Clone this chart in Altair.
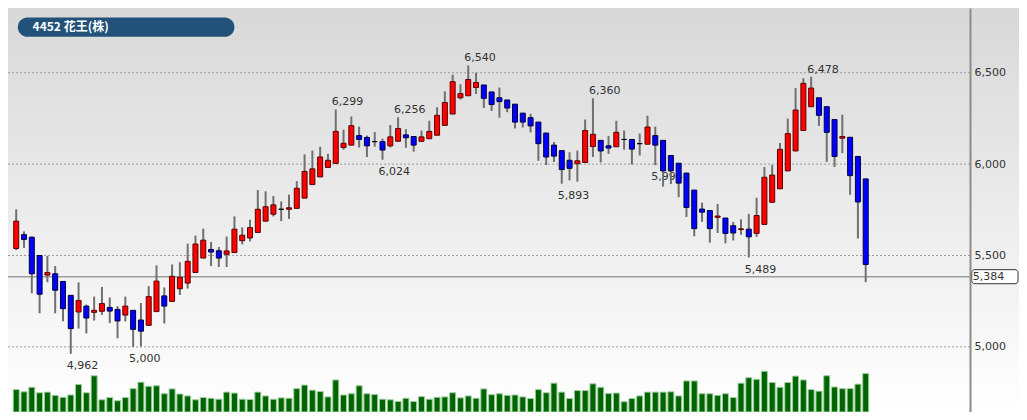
import altair as alt
import pandas as pd

# ---------------- data ----------------
opens = [5538, 5614, 5600, 5500, 5393, 5400, 5358, 5282, 5191, 5223,
         5189, 5195, 5216, 5205, 5174, 5200, 5147, 5118, 5193, 5279,
         5249, 5318, 5349, 5407, 5486, 5533, 5526, 5507, 5516, 5581,
         5596, 5626, 5688, 5726, 5753, 5753, 5758, 5814, 5888, 5930,
         5982, 6004, 6091, 6104, 6156, 6146, 6123, 6123, 6100, 6125,
         6160, 6151, 6125, 6139, 6158, 6212, 6274, 6363, 6374, 6419,
         6433, 6395, 6363, 6351, 6328, 6279, 6254, 6230, 6170, 6104,
         6074, 6021, 6002, 6009, 6096, 6130, 6100, 6095, 6135, 6135,
         6112, 6109, 6156, 6130, 6047, 6005, 5951, 5858, 5754, 5746,
         5709, 5705, 5663, 5642, 5644, 5621, 5670, 5791, 5865, 5963,
         6072, 6184, 6314, 6363, 6314, 6244, 6142, 6147, 6042, 5919]
highs = [5753, 5632, 5605, 5500, 5498, 5442, 5358, 5282, 5353, 5232,
         5275, 5328, 5270, 5223, 5275, 5200, 5240, 5332, 5446, 5325,
         5451, 5463, 5565, 5609, 5647, 5574, 5547, 5604, 5714, 5654,
         5696, 5858, 5851, 5826, 5796, 5833, 5907, 6053, 6074, 6095,
         6056, 6299, 6188, 6261, 6205, 6156, 6175, 6139, 6214, 6256,
         6191, 6151, 6184, 6237, 6311, 6398, 6489, 6437, 6540, 6500,
         6433, 6395, 6419, 6351, 6328, 6279, 6275, 6230, 6170, 6121,
         6074, 6065, 6074, 6244, 6360, 6130, 6153, 6237, 6184, 6135,
         6167, 6265, 6205, 6130, 6047, 6005, 5951, 5858, 5789, 5746,
         5782, 5705, 5684, 5698, 5728, 5816, 5984, 5995, 6116, 6249,
         6416, 6470, 6478, 6363, 6314, 6244, 6270, 6147, 6042, 5919]
lows = [5530, 5542, 5293, 5184, 5354, 5184, 5140, 4962, 5100, 5074,
        5144, 5175, 5130, 5047, 5139, 5000, 5002, 5118, 5193, 5128,
        5249, 5284, 5319, 5407, 5486, 5442, 5437, 5437, 5516, 5561,
        5577, 5626, 5688, 5714, 5688, 5700, 5758, 5814, 5888, 5930,
        5982, 6004, 6079, 6104, 6091, 6039, 6095, 6024, 6091, 6125,
        6089, 6068, 6121, 6139, 6158, 6212, 6274, 6354, 6374, 6384,
        6307, 6291, 6254, 6284, 6195, 6200, 6174, 6018, 5995, 6012,
        5893, 5911, 5904, 6009, 6039, 6009, 6056, 6095, 6079, 5998,
        6047, 6109, 5994, 5877, 5891, 5819, 5711, 5605, 5684, 5570,
        5623, 5567, 5582, 5614, 5489, 5602, 5670, 5791, 5865, 5963,
        6072, 6184, 6314, 6209, 6012, 5984, 6060, 5832, 5593, 5354]
closes = [5688, 5588, 5400, 5288, 5407, 5310, 5209, 5100, 5254, 5158,
          5200, 5237, 5196, 5142, 5223, 5096, 5086, 5275, 5360, 5223,
          5386, 5381, 5468, 5563, 5584, 5519, 5486, 5525, 5644, 5611,
          5653, 5753, 5767, 5777, 5753, 5761, 5868, 5960, 5974, 6039,
          6021, 6179, 6114, 6210, 6135, 6100, 6123, 6077, 6149, 6195,
          6144, 6104, 6149, 6179, 6267, 6337, 6451, 6386, 6463, 6447,
          6360, 6326, 6342, 6307, 6230, 6230, 6209, 6112, 6039, 6044,
          5970, 5977, 6018, 6184, 6163, 6072, 6088, 6174, 6135, 6082,
          6112, 6203, 6104, 5963, 5963, 5896, 5763, 5647, 5737, 5647,
          5716, 5621, 5623, 5646, 5602, 5719, 5928, 5940, 6081, 6167,
          6296, 6442, 6416, 6267, 6174, 6042, 6151, 5937, 5793, 5451]
volumes = [1165, 1050, 1285, 1000, 1035, 865, 765, 885, 1435, 1000,
           1885, 635, 750, 585, 750, 1215, 1550, 1335, 1365, 950,
           1200, 935, 835, 635, 750, 715, 665, 1035, 985, 665,
           650, 1035, 835, 665, 735, 715, 1215, 1400, 1135, 1065,
           785, 1665, 885, 950, 1365, 950, 915, 665, 635, 550,
           715, 550, 800, 665, 765, 785, 1000, 735, 835, 715,
           1200, 900, 950, 865, 885, 785, 700, 1165, 1000, 1500,
           1035, 700, 1115, 1115, 1465, 1285, 965, 985, 535, 700,
           835, 1035, 1035, 1035, 1050, 835, 1615, 1615, 950, 950,
           865, 950, 750, 1500, 1785, 1700, 2115, 1535, 1285, 1535,
           1865, 1665, 1165, 1085, 1885, 1300, 1215, 1215, 1450, 2000]

tick_values = [5000, 5500, 6000, 6500]
ref_price = 5384
note_idx = [7, 15, 47, 41, 49, 58, 70, 74, 82, 94, 102]
note_val = [4962, 5000, 6024, 6299, 6256, 6540, 5893, 6360, 5994, 5489, 6478]
note_kind = ["low", "low", "low", "high", "high", "high", "low", "high", "low", "low", "high"]
title_text = "4452 花王(株)"

# ---------------- layout ----------------
SX = 1011 / 1027
SY = 404 / 420
W = 962
H = 404
FONT = "DejaVu Sans"

xscale = alt.Scale(domain=[-0.4125, 121.74], nice=False, zero=False)
yscale = alt.Scale(domain=[4643.7, 6854.2], nice=False, zero=False)

n = len(opens)
df = pd.DataFrame({"i": list(range(n)), "open": opens, "high": highs,
                   "low": lows, "close": closes, "vol": volumes})
df["dir"] = ["up" if c > o else ("down" if c < o else "flat") for o, c in zip(opens, closes)]

X = alt.X("i:Q", scale=xscale, axis=None)

grad = alt.LinearGradient(
    gradient="linear",
    stops=[alt.GradientStop(color="#d8d8d8", offset=0),
           alt.GradientStop(color="#ffffff", offset=1)],
    x1=0, x2=0, y1=0, y2=1)

one = pd.DataFrame({"k": [0]})
bg = alt.Chart(one).mark_rect(fill=grad).encode(
    x=alt.value(0), x2=alt.value(1011), y=alt.value(0), y2=alt.value(H))

grid_df = pd.DataFrame({"v": tick_values})
grid = alt.Chart(grid_df).mark_rule(strokeDash=[2, 2], color="#9a9a9a", strokeWidth=1).encode(
    y=alt.Y("v:Q", scale=yscale,
            axis=alt.Axis(orient="right", values=tick_values, format=",.0f", grid=False,
                          ticks=False, domainColor="#8c8c8c", domainWidth=2,
                          labelColor="#333333", labelFont=FONT, labelFontSize=11,
                          labelPadding=4, title=None, zindex=1)),
    x=alt.value(0), x2=alt.value(W))

ref_df = pd.DataFrame({"p": [ref_price], "lo": [ref_price - 38.4], "hi": [ref_price + 38.4],
                       "label": [f"{ref_price:,}"]})
ref_line = alt.Chart(ref_df).mark_rule(color="#9c9c9c", strokeWidth=1.5).encode(
    y=alt.Y("p:Q", scale=yscale, axis=None), x=alt.value(0), x2=alt.value(W))

vol = alt.Chart(df).mark_bar(size=6, fill="#006400", stroke="#9fcf9f", strokeWidth=1).encode(
    x=X,
    y=alt.Y("vol:Q", scale=alt.Scale(domain=[0, 2500], range=[H, H - 50 * SY]), axis=None))

notes_df = pd.DataFrame({"i": note_idx, "v": note_val, "kind": note_kind,
                         "label": [f"{v:,}" for v in note_val]})
notes_hi = alt.Chart(notes_df).transform_filter(alt.datum.kind == "high").mark_text(
    align="left", baseline="alphabetic", dx=-4, dy=-4, font=FONT, fontSize=11, color="#333333"
).encode(x=X, y=alt.Y("v:Q", scale=yscale, axis=None), text="label:N")
notes_lo = alt.Chart(notes_df).transform_filter(alt.datum.kind == "low").mark_text(
    align="left", baseline="top", dx=-4, dy=6, font=FONT, fontSize=11, color="#333333"
).encode(x=X, y=alt.Y("v:Q", scale=yscale, axis=None), text="label:N")

wick = alt.Chart(df).mark_rule(color="#707070", strokeWidth=2).encode(
    x=X, y=alt.Y("low:Q", scale=yscale, axis=None), y2="high:Q")

body = alt.Chart(df).mark_bar(size=5, strokeWidth=1).encode(
    x=X,
    y=alt.Y("open:Q", scale=yscale, axis=None), y2="close:Q",
    fill=alt.Fill("dir:N", scale=alt.Scale(domain=["up", "down", "flat"],
                                           range=["#ff0000", "#0000ff", "#000000"]), legend=None),
    stroke=alt.Stroke("dir:N", scale=alt.Scale(domain=["up", "down", "flat"],
                                               range=["#5a0000", "#000040", "#000000"]), legend=None))

ref_box = alt.Chart(ref_df).mark_rect(fill="#ffffff", stroke="#333333", strokeWidth=1,
                                      cornerRadius=3).encode(
    x=alt.value(979 * SX), x2=alt.value(1026 * SX),
    y=alt.Y("lo:Q", scale=yscale, axis=None), y2="hi:Q")
ref_text = alt.Chart(ref_df).mark_text(align="left", baseline="middle", font=FONT,
                                       fontSize=11, color="#333333").encode(
    x=alt.value(980 * SX), y=alt.Y("p:Q", scale=yscale, axis=None), text="label:N")

title_df = pd.DataFrame({"t": [title_text]})
pill = alt.Chart(title_df).mark_rect(fill="#22527a", cornerRadius=10).encode(
    x=alt.value(10 * SX), x2=alt.value(230 * SX), y=alt.value(10 * SY), y2=alt.value(30 * SY))
title = alt.Chart(title_df).mark_text(align="left", baseline="middle", color="#ffffff",
                                      fontWeight="bold", fontSize=12,
                                      font="Noto Sans CJK JP").encode(
    x=alt.value(25 * SX), y=alt.value(20 * SY), text="t:N")

chart = alt.layer(bg, grid, ref_line, vol, notes_hi, notes_lo, wick, body,
                  ref_box, ref_text, pill, title).resolve_scale(y="independent").properties(
    width=W, height=H,
    padding={"left": 0, "top": 0, "right": 1011 - W, "bottom": 0},
    autosize=alt.AutoSizeParams(type="none"),
    background="#ffffff",
).configure_view(stroke=None)

chart.save("out.html", embed_options={"renderer": "svg", "actions": False})
